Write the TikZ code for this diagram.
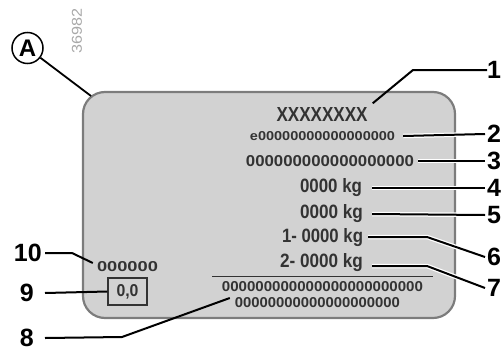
\documentclass[tikz,border=0pt]{standalone}
\usepackage{fontspec}
\setmainfont{Liberation Sans}
\usepackage{graphicx}
\definecolor{platefill}{HTML}{D2D2D2}
\definecolor{plateedge}{HTML}{7C7C7C}
\definecolor{ink}{HTML}{333333}
\definecolor{faint}{HTML}{A8A8A8}
\newcommand\fitbox[3]{\resizebox{#1pt}{#2pt}{#3}}
\tikzset{
  num/.style={font=\fontsize{25}{25}\selectfont\bfseries, inner sep=0pt},
  leader/.style={line width=2pt, black},
  halo/.style={line width=4.5pt, white},
  ptext/.style={text=ink, inner sep=0pt, font=\bfseries},
  plate/.style={fill=platefill, draw=plateedge, line width=2.2pt, rounded corners=22pt},
}
\begin{document}
\begin{tikzpicture}[x=1pt,y=-1pt]
\useasboundingbox (0,0) rectangle (502,353);
% plate
\draw[plate] (83,92) rectangle (455,318);
\coordinate (pc) at (91,96);
% reference number
\node[text=faint, inner sep=0pt, rotate=90] (ref) at (77,31) {\fitbox{45}{10}{36982}};
% circle A
\node[draw, circle, line width=1.5pt, minimum size=31pt, inner sep=0pt,
      font=\fontsize{24}{24}\selectfont\bfseries] (A) at (27.5,48) {A};
\draw[leader, line width=1.8pt] (A) -- (pc);
% plate texts
\node[ptext] (t1) at (322,114.5) {\fitbox{91}{14}{XXXXXXXX}};
\node[ptext] (t2) at (322.5,136) {\fitbox{145}{9}{e00000000000000000}};
\node[ptext] (t3) at (330,161) {\fitbox{168}{11}{000000000000000000}};
\node[ptext] (t4) at (331,188) {\fitbox{62}{14}{0000 kg}};
\node[ptext] (t5) at (331.5,214) {\fitbox{63}{14}{0000 kg}};
\node[ptext] (t6) at (322.5,238) {\fitbox{81}{14}{1- 0000 kg}};
\node[ptext] (t7) at (321.5,263) {\fitbox{83}{14}{2- 0000 kg}};
\draw[ink, line width=1pt] (212,276) -- (433,276);
\node[ptext] (t8a) at (322.5,287) {\fitbox{201}{10}{000000000000000000000000}};
\node[ptext] (t8b) at (317.5,303) {\fitbox{165}{10}{00000000000000000000}};
\node[ptext] (t10) at (127.5,267) {\fitbox{61}{10}{000000}};
\node[draw=ink, line width=1.4pt, minimum width=39pt, minimum height=27pt, inner sep=0pt, text=ink] (t9) at (127.5,291.5) {\fitbox{22}{12}{\bfseries 0,0}};
% number labels right
\node[num, anchor=west] (n1) at (487,70) {1};
\node[num, anchor=west] (n2) at (487,134) {2};
\node[num, anchor=west] (n3) at (487,161) {3};
\node[num, anchor=west] (n4) at (487,188) {4};
\node[num, anchor=west] (n5) at (487,215) {5};
\node[num, anchor=west] (n6) at (487,257) {6};
\node[num, anchor=west] (n7) at (487,288) {7};
% number labels left
\node[num, anchor=east] (n10) at (42,253) {10};
\node[num, anchor=east] (n9) at (34,293) {9};
\node[num, anchor=east] (n8) at (34,338) {8};
% leaders right
\draw[leader] ([shift={(5,-4)}]t1.north east) -- (413,70) -- (n1.west);
\draw[halo] ([xshift=8pt]t2.east) -- ([xshift=-2pt]n2.west);
\draw[leader] ([xshift=8pt]t2.east) -- ([xshift=-2pt]n2.west);
\draw[halo] ([xshift=4pt]t3.east) -- ([xshift=-2pt]n3.west);
\draw[leader] ([xshift=4pt]t3.east) -- ([xshift=-2pt]n3.west);
\draw[halo] ([xshift=10pt]t4.east) -- ([xshift=-2pt]n4.west);
\draw[leader] ([xshift=10pt]t4.east) -- ([xshift=-2pt]n4.west);
\draw[halo] ([xshift=9pt]t5.east) -- ([xshift=-2pt]n5.west);
\draw[leader] ([xshift=9pt]t5.east) -- ([xshift=-2pt]n5.west);
\draw[halo] ([shift={(5,-1)}]t6.east) -- (427,237) -- ([xshift=-2pt]n6.west);
\draw[leader] ([shift={(5,-1)}]t6.east) -- (427,237) -- ([xshift=-2pt]n6.west);
\draw[halo] ([shift={(9,3)}]t7.east) -- (427,266) -- ([xshift=-2pt]n7.west);
\draw[leader] ([shift={(9,3)}]t7.east) -- (427,266) -- ([xshift=-2pt]n7.west);
% leaders left
\draw[leader] ([xshift=3pt]n10.east) -- (72,253) -- ([shift={(-4,-4)}]t10.west);
\draw[leader] ([xshift=11pt]n9.east) -- (t9.west);
\draw[leader] ([xshift=11pt]n8.east) -- (122,337) -- ([shift={(8,11)}]t8a.west);
\end{tikzpicture}
\end{document}
